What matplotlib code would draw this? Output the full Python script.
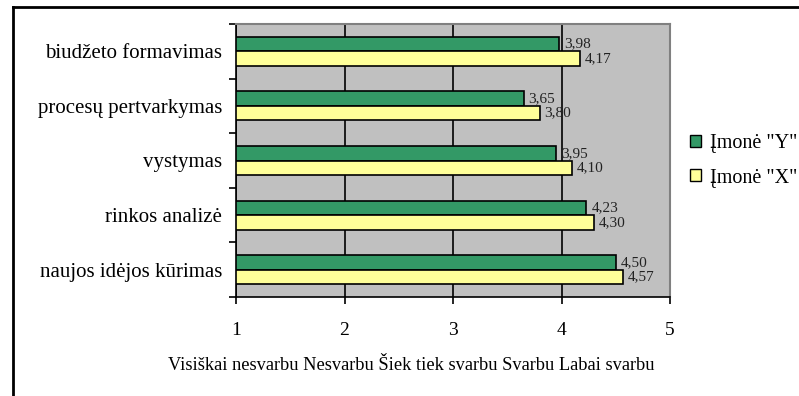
import numpy as np
import matplotlib.pyplot as plt
from matplotlib.patches import Patch

plt.rcParams['font.family'] = ['Liberation Serif', 'DejaVu Serif']

# Categories listed bottom to top
categories = ["naujos idėjos kūrimas", "rinkos analizė", "vystymas",
              "procesų pertvarkymas", "biudžeto formavimas"]
imone_y = [4.50, 4.23, 3.95, 3.65, 3.98]
imone_x = [4.57, 4.30, 4.10, 3.80, 4.17]
series_names = ['Įmonė "Y"', 'Įmonė "X"']
x_ticks = [1, 2, 3, 4, 5]
x_title = "Visiškai nesvarbu Nesvarbu Šiek tiek svarbu Svarbu Labai svarbu"

green = "#339966"
yellow = "#FFFF99"

fig = plt.figure(figsize=(7.99, 3.96), dpi=100)
ax = fig.add_axes([236 / 799, 1 - 297 / 396, 434 / 799, 273 / 396])
ax.set_facecolor("#C0C0C0")

pos = np.arange(len(categories))
h = 0.265
ax.barh(pos + h / 2, [v - 1 for v in imone_y], height=h, left=1,
        color=green, edgecolor="black", linewidth=1.2, zorder=3)
ax.barh(pos - h / 2, [v - 1 for v in imone_x], height=h, left=1,
        color=yellow, edgecolor="black", linewidth=1.2, zorder=3)

for p, v in zip(pos, imone_y):
    ax.text(v + 0.045, p + h / 2, f"{v:.2f}".replace(".", ","), va="center",
            ha="left", fontsize=11, color="#222222", zorder=4)
for p, v in zip(pos, imone_x):
    ax.text(v + 0.045, p - h / 2, f"{v:.2f}".replace(".", ","), va="center",
            ha="left", fontsize=11, color="#222222", zorder=4)

ax.set_xlim(1, 5)
ax.set_ylim(-0.5, len(categories) - 0.5)
ax.set_xticks(x_ticks)
ax.set_xticklabels([str(t) for t in x_ticks], fontsize=14)
ax.tick_params(axis="x", direction="out", length=5, width=1.2, pad=13)
ax.xaxis.grid(True, color="black", linewidth=1.2, zorder=1)
ax.set_axisbelow(True)

# category labels centred, tick marks on category boundaries
ax.set_yticks(np.arange(-0.5, len(categories), 1.0))
ax.set_yticklabels([])
ax.set_yticks(pos, minor=True)
ax.set_yticklabels(categories, minor=True, fontsize=15)
ax.tick_params(axis="y", which="major", direction="out", length=5, width=1.2)
ax.tick_params(axis="y", which="minor", length=0, pad=10)

for s in ("left", "bottom"):
    ax.spines[s].set_color("black")
    ax.spines[s].set_linewidth(1.2)
for s in ("top", "right"):
    ax.spines[s].set_color("#808080")
    ax.spines[s].set_linewidth(1.5)

fig.text(411 / 799, 1 - 366 / 396, x_title, ha="center", va="center", fontsize=13.2)

handles = [Patch(facecolor=green, edgecolor="black"),
           Patch(facecolor=yellow, edgecolor="black")]
fig.legend(handles, series_names, loc="center left",
           bbox_to_anchor=(690 / 799, 1 - 161 / 396), frameon=False,
           fontsize=14.5, handlelength=0.55, handleheight=0.55, handletextpad=0.45,
           labelspacing=0.75, borderpad=0, borderaxespad=0)

# outer chart frame (open on the right and bottom)
fig.add_artist(plt.Line2D([13 / 799, 13 / 799], [0, 1 - 7 / 396],
                          transform=fig.transFigure, color="black", linewidth=2))
fig.add_artist(plt.Line2D([13 / 799, 1], [1 - 7 / 396, 1 - 7 / 396],
                          transform=fig.transFigure, color="black", linewidth=2))

fig.savefig("out.png", dpi=100)
